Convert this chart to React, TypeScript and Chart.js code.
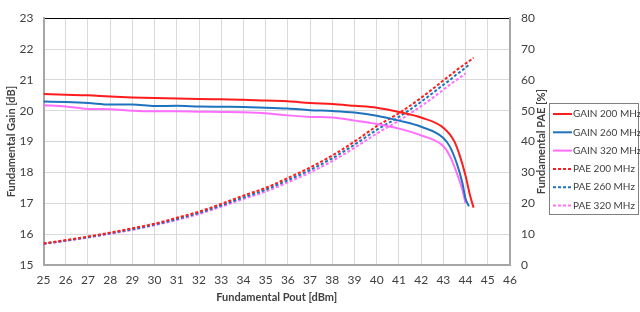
import React, { useEffect, useRef } from 'react';
import { Chart, registerables } from 'chart.js';

Chart.register(...registerables);

const seriesLabels = ['GAIN 200 MHz', 'GAIN 260 MHz', 'GAIN 320 MHz', 'PAE 200 MHz', 'PAE 260 MHz', 'PAE 320 MHz'];

const pout200 = [25, 26, 27, 28, 29, 30, 31, 32, 33, 34, 35, 36, 37, 38, 39, 40, 41, 42, 43, 43.5, 43.75, 44, 44.2, 44.36];
const gain200 = [20.54, 20.52, 20.5, 20.46, 20.43, 20.41, 20.4, 20.38, 20.37, 20.36, 20.33, 20.31, 20.25, 20.22, 20.16, 20.1, 19.96, 19.78, 19.45, 19.0, 18.52, 17.89, 17.26, 16.86];
const pae200 = [7.0, 8.1, 9.2, 10.5, 11.9, 13.4, 15.3, 17.3, 19.8, 22.5, 25.0, 28.2, 31.6, 35.5, 40.0, 45.0, 49.2, 54.2, 59.8, 62.6, 64.0, 65.3, 66.3, 67.2];

const pout260 = [25, 26, 27, 28, 29, 30, 31, 32, 33, 34, 35, 36, 37, 38, 39, 40, 41, 42, 43, 43.3, 43.6, 43.85, 44.0, 44.15];
const gain260 = [20.3, 20.28, 20.25, 20.2, 20.2, 20.15, 20.16, 20.14, 20.13, 20.12, 20.1, 20.07, 20.02, 19.99, 19.94, 19.84, 19.68, 19.48, 19.12, 18.83, 18.3, 17.68, 17.15, 16.9];
const pae260 = [6.9, 7.9, 9.0, 10.3, 11.6, 13.1, 14.9, 16.9, 19.3, 21.9, 24.4, 27.5, 30.8, 34.6, 39.0, 43.8, 48.0, 52.9, 58.4, 60.0, 61.8, 63.1, 64.0, 64.9];

const pout320 = [25, 26, 27, 28, 29, 30, 31, 32, 33, 34, 35, 36, 37, 38, 39, 40, 41, 42, 43, 43.3, 43.6, 43.85, 44.0];
const gain320 = [20.18, 20.14, 20.06, 20.05, 20.0, 19.98, 19.98, 19.97, 19.96, 19.95, 19.92, 19.85, 19.8, 19.78, 19.68, 19.57, 19.42, 19.2, 18.85, 18.52, 17.99, 17.45, 17.0];
const pae320 = [6.8, 7.8, 8.9, 10.1, 11.4, 12.9, 14.6, 16.5, 18.9, 21.4, 23.8, 26.8, 30.0, 33.7, 38.0, 42.6, 46.8, 51.5, 56.8, 58.5, 60.0, 61.3, 62.1];

const xTitle = 'Fundamental Pout [dBm]';
const yTitle = 'Fundamental Gain [dB]';
const y1Title = 'Fundamental PAE [%]';

const RED = '#FF1C1C';
const BLUE = '#1F73BE';
const PINK = '#FF6EFF';
const FONT = 'Lato, "Open Sans", sans-serif';
const TEXT = '#404040';

const pts = (xs: number[], ys: number[]) => xs.map((x, i) => ({ x, y: ys[i] }));

const legendPlugin = {
  id: 'customLegend',
  afterDraw(chart: any) {
    const ctx = chart.ctx;
    ctx.save();
    // right axis title, bottom-to-top
    ctx.translate(541, (chart.chartArea.top + chart.chartArea.bottom) / 2);
    ctx.rotate(-Math.PI / 2);
    ctx.font = `bold 11px ${FONT}`;
    ctx.fillStyle = TEXT;
    ctx.textAlign = 'center';
    ctx.textBaseline = 'middle';
    ctx.fillText(y1Title, 0, 0);
    ctx.restore();

    ctx.save();
    const bx = 549, by = 103, bw = 89, bh = 111;
    ctx.strokeStyle = '#808080';
    ctx.lineWidth = 1;
    ctx.strokeRect(bx + 0.5, by + 0.5, bw, bh);
    ctx.font = `10px ${FONT}`;
    ctx.textBaseline = 'middle';
    ctx.textAlign = 'left';
    chart.data.datasets.forEach((ds: any, i: number) => {
      const y = by + 11 + i * 18.3;
      ctx.strokeStyle = ds.borderColor;
      ctx.lineWidth = 2;
      ctx.setLineDash(ds.borderDash || []);
      ctx.beginPath();
      ctx.moveTo(bx + 4, y);
      ctx.lineTo(bx + 23, y);
      ctx.stroke();
      ctx.setLineDash([]);
      ctx.fillStyle = TEXT;
      ctx.fillText(ds.label, bx + 24, y);
    });
    ctx.restore();
  },
};

export default function App() {
  const ref = useRef<HTMLCanvasElement | null>(null);
  useEffect(() => {
    if (!ref.current) return;
    const mk = (label: string, xs: number[], ys: number[], color: string, axis: string, dashed: boolean) => ({
      label,
      data: pts(xs, ys),
      borderColor: color,
      backgroundColor: color,
      borderWidth: 2,
      borderDash: dashed ? [3, 2] : [],
      pointRadius: 0,
      fill: false,
      cubicInterpolationMode: 'monotone',
      yAxisID: axis,
    });
    const chart = new Chart(ref.current, {
      type: 'line',
      data: {
        datasets: [
          mk(seriesLabels[0], pout200, gain200, RED, 'y', false),
          mk(seriesLabels[1], pout260, gain260, BLUE, 'y', false),
          mk(seriesLabels[2], pout320, gain320, PINK, 'y', false),
          mk(seriesLabels[3], pout200, pae200, RED, 'y1', true),
          mk(seriesLabels[4], pout260, pae260, BLUE, 'y1', true),
          mk(seriesLabels[5], pout320, pae320, PINK, 'y1', true),
        ] as any,
      },
      options: {
        animation: false,
        responsive: true,
        maintainAspectRatio: false,
        layout: { padding: { top: 11, left: 0, right: 0, bottom: 0 } },
        plugins: { legend: { display: false }, tooltip: { enabled: false } },
        scales: {
          x: {
            type: 'linear',
            min: 25,
            max: 46,
            ticks: { stepSize: 1, color: TEXT, font: { family: FONT, size: 12 }, padding: 8, maxRotation: 0 },
            grid: { color: '#D9D9D9', drawTicks: false },
            border: { color: '#A6A6A6', width: 2 },
            title: { display: true, text: xTitle, color: TEXT, font: { family: FONT, size: 11, weight: 'bold' }, padding: { top: 0, bottom: 8 } },
            afterFit: (s: any) => { s.height = 47; },
          },
          y: {
            type: 'linear',
            position: 'left',
            min: 15,
            max: 23,
            ticks: { stepSize: 1, color: TEXT, font: { family: FONT, size: 12 }, padding: 10 },
            grid: {
              color: (c: any) => (c.tick && c.tick.value === 23 ? '#000000' : '#D9D9D9'),
              drawTicks: false,
            },
            border: { color: '#A6A6A6', width: 2 },
            title: { display: true, text: yTitle, color: TEXT, font: { family: FONT, size: 11, weight: 'bold' }, padding: { top: 5, bottom: 0 } },
            afterFit: (s: any) => { s.width = 43.5; },
          },
          y1: {
            type: 'linear',
            position: 'right',
            min: 0,
            max: 80,
            ticks: { stepSize: 10, color: TEXT, font: { family: FONT, size: 12 }, padding: 11 },
            grid: { display: false, drawTicks: false },
            border: { color: '#A6A6A6', width: 2 },
            afterFit: (s: any) => { s.width = 130; },
          },
        },
      } as any,
      plugins: [legendPlugin],
    });
    return () => chart.destroy();
  }, []);
  return (
    <div style={{ position: 'fixed', left: 0, top: 0, width: 640, height: 312, background: '#fff' }}>
      <canvas ref={ref} />
    </div>
  );
}
